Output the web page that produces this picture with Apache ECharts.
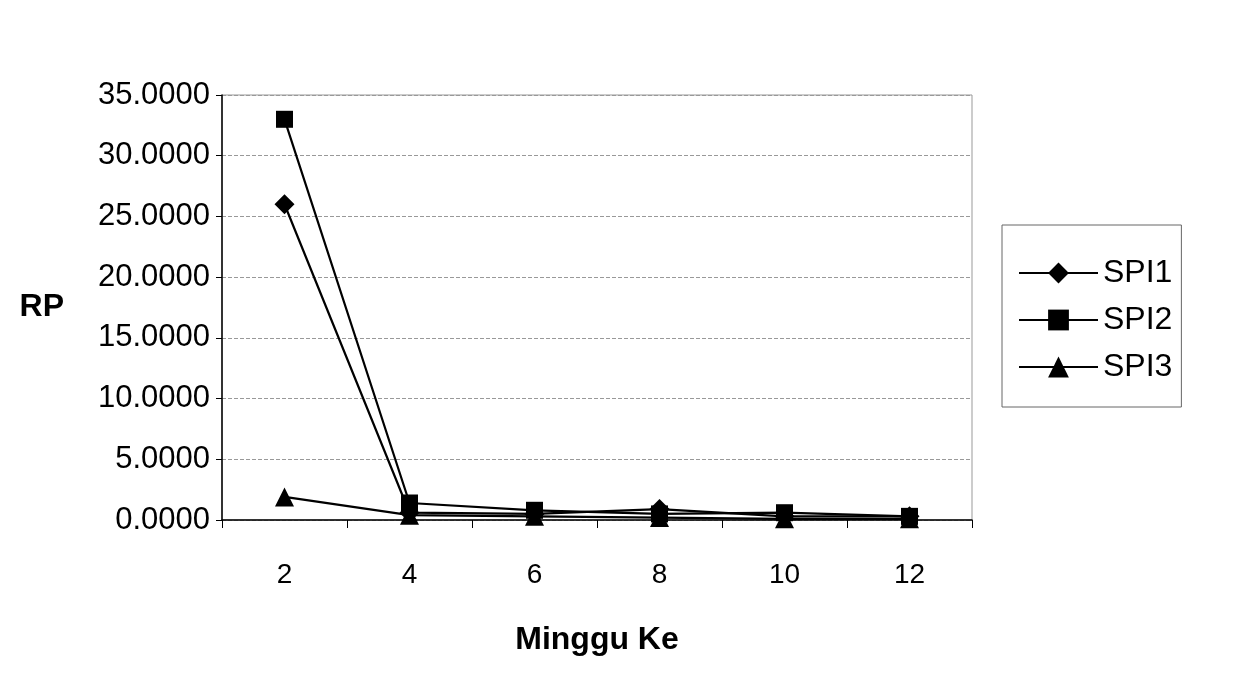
<!DOCTYPE html>
<html><head><meta charset="utf-8">
<script src="https://cdn.jsdelivr.net/npm/echarts@6/dist/echarts.min.js"></script>
<style>html,body{margin:0;padding:0;background:#fff}#c{width:1234px;height:685px}</style>
</head><body><div id="c"></div>
<script>
const categories = ['2','4','6','8','10','12'];
const spi1 = [26.0, 0.6, 0.5, 0.9, 0.3, 0.3];
const spi2 = [33.0, 1.4, 0.8, 0.5, 0.6, 0.3];
const spi3 = [1.9, 0.4, 0.3, 0.2, 0.1, 0.1];
const yTicks = {min: 0, max: 35, interval: 5};

const chart = echarts.init(document.getElementById('c'));
const font = 'Arial, "Liberation Sans", sans-serif';
function s(name, data, symbol, size) {
  return {name, type: 'line', data, symbol, symbolSize: size,
    lineStyle: {color: '#000', width: 2.2}, itemStyle: {color: '#000'}, animation: false};
}
chart.setOption({
  backgroundColor: '#fff',
  grid: {left: 222, right: 262, top: 95, bottom: 165, show: true, borderColor: '#999', borderWidth: 1},
  xAxis: {type: 'category', data: categories, boundaryGap: true,
    axisLine: {lineStyle: {color: '#000', width: 1.5}},
    axisTick: {show: true, length: 8, lineStyle: {color: '#000'}},
    axisLabel: {color: '#000', fontSize: 28, fontFamily: font, margin: 41},
    name: 'Minggu Ke', nameLocation: 'middle', nameGap: 104,
    nameTextStyle: {color: '#000', fontSize: 32, fontWeight: 'bold', fontFamily: font}},
  yAxis: {type: 'value', min: yTicks.min, max: yTicks.max, interval: yTicks.interval,
    axisLine: {show: true, lineStyle: {color: '#000', width: 1.5}},
    axisTick: {show: true, length: 6, lineStyle: {color: '#000'}},
    axisLabel: {color: '#000', fontSize: 31, fontFamily: font, margin: 12,
      formatter: v => v.toFixed(4)},
    splitLine: {lineStyle: {color: '#999', type: 'dashed'}},
    name: 'RP', nameLocation: 'middle', nameGap: 158, nameRotate: 0,
    nameTextStyle: {color: '#000', fontSize: 32, fontWeight: 'bold', fontFamily: font}},
  legend: {orient: 'vertical', left: 1002, top: 225,
    padding: [32, 9, 24, 16], itemGap: 15, itemWidth: 79, itemHeight: 26,
    borderColor: '#666', borderWidth: 1,
    textStyle: {color: '#000', fontSize: 32, fontFamily: font},
    data: ['SPI1','SPI2','SPI3']},
  series: [s('SPI1', spi1, 'diamond', 20), s('SPI2', spi2, 'rect', 17), s('SPI3', spi3, 'triangle', 19)]
});
</script></body></html>
